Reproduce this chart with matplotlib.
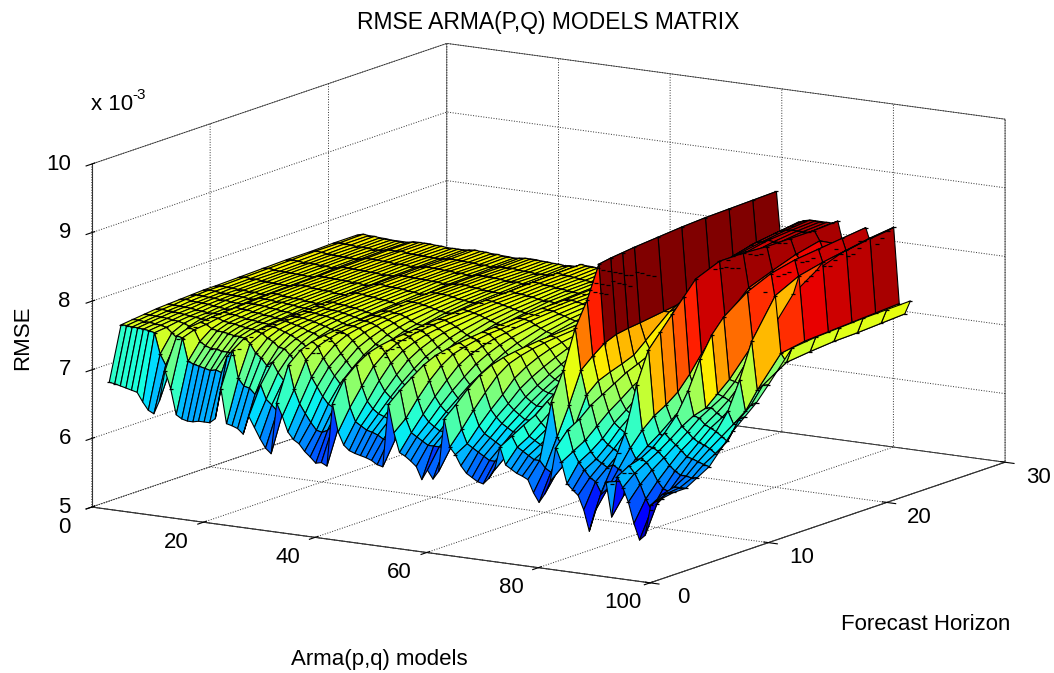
import numpy as np
import matplotlib
matplotlib.use("Agg")
import matplotlib.pyplot as plt
from mpl_toolkits.mplot3d import Axes3D, proj3d

plt.rcParams['font.family'] = ['Liberation Sans', 'DejaVu Sans']
plt.rcParams['grid.color'] = '#303030'
plt.rcParams['grid.linestyle'] = ':'
plt.rcParams['grid.linewidth'] = 0.7

# RMSE x 1e5, one list per forecast horizon, 100 models each
horizons = [1, 2, 3, 4, 5, 6, 7, 8, 9, 10, 12, 14, 16, 18, 20, 22]

h01 = [677,676,674,672,670,668,655,644,640,660, 705,680,643,638,636,636,638,638,638,645,
       690,640,638,635,628,655,640,625,612,605, 680,662,640,630,625,615,608,600,602,598,
       690,650,632,625,622,620,618,615,610,608, 700,660,632,628,622,615,597,612,600,612,
       690,650,640,625,615,610,605,603,612,625, 660,635,630,625,622,618,600,587,600,620,
       670,650,620,612,605,585,555,585,610,630, 580,640,625,605,575,552,560,605,612,617]
h02 = [755,755,754,754,753,752,750,720,705,705, 750,748,715,712,710,708,706,708,705,730,
       740,700,690,688,680,695,675,668,660,660, 730,695,675,662,650,640,638,642,650,650,
       720,680,660,655,650,648,645,640,640,640, 715,675,655,650,645,640,640,640,640,640,
       705,670,650,645,640,635,630,630,635,640, 670,655,650,645,640,640,630,625,625,635,
       690,660,645,635,625,620,605,610,620,625, 605,650,640,625,605,590,600,615,618,620]
h03 = [757,757,756,756,755,754,752,745,738,738, 756,754,738,733,730,730,728,728,725,735,
       752,745,732,726,716,722,708,698,692,692, 745,732,708,695,682,672,668,672,675,680,
       735,705,684,674,668,665,662,660,660,658, 728,698,676,666,660,655,655,655,655,655,
       722,692,670,660,655,650,645,645,648,650, 680,665,660,655,650,720,670,655,640,648,
       700,670,655,645,640,635,640,635,630,632, 620,655,650,640,625,615,612,620,620,620]
h04 = [759,759,758,758,757,756,755,753,750,750, 758,756,751,749,748,747,745,745,743,746,
       756,754,748,744,737,736,728,720,714,714, 752,746,730,718,706,696,692,695,698,702,
       746,728,708,694,686,682,680,678,676,676, 740,718,696,684,676,672,670,670,670,671,
       736,712,688,678,670,665,660,660,662,665, 689,679,671,667,690,760,710,680,665,660,
       715,685,668,660,655,650,680,660,645,645, 635,665,660,652,642,635,630,630,628,630]
h05 = [761,761,760,760,759,758,757,756,755,755, 760,759,756,755,754,752,751,750,749,752,
       758,758,755,752,749,745,740,734,728,728, 755,752,744,732,722,712,706,708,710,715,
       751,742,728,712,702,695,692,690,688,689, 748,734,714,700,690,684,682,682,682,684,
       745,730,704,692,684,678,672,672,675,678, 703,693,688,683,720,815,755,720,690,675,
       725,700,685,678,672,668,745,680,658,656, 655,680,672,665,658,650,648,645,642,640]
h06 = [762,762,761,761,760,759,758,757,757,757, 761,760,759,757,756,755,754,753,752,754,
       760,760,758,756,754,750,748,744,740,740, 757,756,752,745,736,726,720,720,723,728,
       754,750,740,728,716,708,704,702,700,702, 752,745,730,714,704,697,694,694,694,697,
       750,742,722,708,697,691,686,686,688,692, 716,706,701,696,735,850,770,735,705,690,
       735,712,698,692,688,686,790,695,670,665, 668,700,685,678,670,665,662,658,652,660]
h07 = [763,764,763,762,762,761,760,759,758,758, 762,761,761,759,758,757,756,755,754,755,
       761,761,760,758,757,754,752,749,746,746, 759,758,756,751,744,736,731,730,732,736,
       756,754,747,738,728,720,716,714,712,714, 755,750,740,727,715,708,705,705,705,708,
       753,748,733,719,708,702,699,698,700,703, 726,718,714,711,745,897,783,742,715,700,
       745,725,712,708,705,705,810,705,684,680, 680,730,695,692,684,680,676,670,664,680]
h08 = [764,765,764,763,763,762,762,761,760,760, 763,763,762,761,760,759,758,757,756,756,
       762,762,761,760,759,757,755,752,750,750, 760,760,758,755,750,744,739,738,740,743,
       758,757,752,745,736,729,725,723,722,723, 757,754,746,736,725,718,715,715,715,718,
       755,752,741,728,718,712,709,709,710,713, 733,728,724,730,760,900,790,748,725,710,
       752,735,724,722,722,725,830,718,698,695, 690,770,700,702,695,690,700,682,690,695]
h09 = [765,766,765,764,764,763,763,762,761,761, 764,764,763,762,762,761,760,759,758,758,
       763,763,762,761,760,759,757,755,753,753, 761,761,760,758,754,749,745,744,745,748,
       760,759,755,750,743,737,733,731,729,730, 759,757,751,743,734,727,724,723,723,726,
       757,755,747,736,727,721,718,717,718,721, 740,735,731,742,795,902,793,755,735,722,
       760,745,738,738,740,745,850,738,715,712, 708,800,715,712,708,702,740,695,705,710]
h10 = [765,766,765,765,764,764,763,763,762,762, 765,765,764,763,762,762,761,760,759,759,
       764,764,763,762,761,760,758,757,755,755, 762,762,761,760,757,753,749,748,749,752,
       761,760,757,753,748,743,739,737,735,736, 760,758,754,748,741,735,732,731,731,733,
       758,757,751,743,735,729,726,725,726,728, 746,741,737,750,803,904,795,770,755,745,
       775,765,762,765,770,778,870,762,740,738, 735,820,730,728,725,722,790,720,728,730]
h12 = [766,767,766,766,765,765,764,764,763,763, 766,766,766,765,764,763,763,762,761,761,
       765,766,765,764,763,762,761,760,758,758, 764,764,763,762,760,758,756,755,755,757,
       763,762,760,758,755,752,749,748,747,747, 762,761,759,755,751,747,745,744,744,745,
       761,760,757,752,748,743,740,739,740,741, 753,750,748,755,808,907,800,800,805,810,
       820,825,828,830,835,840,884,802,790,790, 795,845,770,775,780,790,845,762,750,772]
h14 = [767,768,767,766,766,766,765,765,764,764, 767,767,766,766,765,765,764,764,763,763,
       766,767,766,765,765,764,763,762,761,761, 765,765,765,764,763,761,760,759,759,760,
       765,764,763,761,759,757,755,754,753,753, 764,763,762,759,757,754,752,751,751,752,
       763,762,760,757,754,750,748,747,748,749, 758,756,754,760,813,910,805,820,830,840,
       850,855,858,860,860,862,884,835,825,828, 832,860,810,818,825,835,862,768,754,776]
h16 = [768,769,768,767,767,767,766,766,765,766, 768,768,768,767,767,766,766,765,765,765,
       767,768,767,767,766,766,765,765,764,764, 766,766,766,765,764,763,762,762,761,762,
       766,765,764,763,762,760,759,759,758,758, 765,765,764,762,760,758,756,756,755,756,
       765,764,762,760,758,755,753,752,753,754, 762,760,759,762,818,912,810,835,845,855,
       862,866,868,868,868,870,882,848,842,845, 850,868,835,840,848,858,870,770,757,778]
h18 = [768,770,769,768,768,767,767,767,766,767, 769,769,769,768,768,767,767,767,766,766,
       768,769,768,768,767,767,766,766,765,765, 767,767,767,766,765,764,764,764,763,764,
       768,767,766,765,764,763,762,761,760,760, 767,766,765,764,763,761,760,759,758,759,
       766,765,764,762,760,758,756,755,756,757, 764,763,762,765,823,913,815,845,855,865,
       870,872,875,874,874,875,882,860,850,852, 858,872,848,850,860,870,876,772,758,780]
h20 = [769,770,770,769,768,768,768,767,767,768, 770,769,770,769,768,768,768,767,767,767,
       768,769,768,768,767,767,766,766,765,766, 767,767,767,766,765,765,764,764,764,765,
       769,768,767,766,765,764,763,763,762,762, 768,767,766,765,764,762,761,761,760,761,
       767,766,765,763,761,759,758,758,758,759, 766,765,764,767,826,914,820,850,862,870,
       875,877,878,878,878,878,882,868,848,851, 860,876,852,856,865,876,882,774,760,781]
h22 = [769,771,770,770,769,769,768,768,768,768, 770,770,770,770,769,769,768,768,768,768,
       769,770,769,769,768,768,767,767,766,767, 768,768,768,767,767,766,766,765,766,766,
       770,769,769,768,767,766,765,765,764,764, 770,769,768,767,766,764,763,763,762,763,
       769,768,767,765,763,761,760,760,760,761, 768,767,766,769,830,915,825,855,868,875,
       878,880,880,880,880,880,884,850,845,850, 860,880,855,858,868,880,886,776,762,782]

x_ticks = [0, 20, 40, 60, 80, 100]
y_ticks = [0, 10, 20, 30]
z_ticks = [5, 6, 7, 8, 9, 10]

rows = [h01, h02, h03, h04, h05, h06, h07, h08, h09, h10, h12, h14, h16, h18, h20, h22]
Z = np.array(rows) / 100.0
models = np.arange(1, Z.shape[1] + 1)
X, Y = np.meshgrid(models, horizons)

colors = plt.cm.jet(plt.Normalize(5.3, 8.95)(Z))

# vertices behind a ridge get no dash
seen = np.ones(Z.shape, dtype=bool)
for j in range(Z.shape[0]):
    for i in range(Z.shape[1] - 1):
        seen[j, i] = Z[j, i] >= Z[j, i + 1:i + 21].max() - 0.3

fig = plt.figure(figsize=(10.54, 6.73), dpi=100)
ax = fig.add_axes([-0.01556, -0.3046, 1.0436, 1.6345], projection='3d', proj_type='ortho',
                  computed_zorder=False)
ax.patch.set_alpha(0)
ax.view_init(elev=12.4, azim=-57.7)
ax.set_box_aspect((660, 664, 351), zoom=0.883)

ax.plot_surface(X, Y, Z, facecolors=colors, rstride=1, cstride=1, shade=False,
                edgecolor='k', linewidth=0.8, zorder=2)
# little dashes matlab leaves on the vertices
ax.plot(X[seen], Y[seen], Z[seen], linestyle='none', marker='_', markersize=3,
        markeredgewidth=0.9, color='k', zorder=3)

ax.set_xlim(0, 100)
ax.set_ylim(0, 30)
ax.set_zlim(5, 10)
ax.set_xticks(x_ticks)
ax.set_yticks(y_ticks)
ax.set_zticks(z_ticks)
ax.zaxis.set_ticks_position('lower')
ax.zaxis.set_label_position('lower')
for axis in (ax.xaxis, ax.yaxis, ax.zaxis):
    axis.set_pane_color((1, 1, 1, 1))
    axis.pane.set_edgecolor('#505050')
    axis.pane.set_linewidth(0.6)
    axis.line.set_color('#333333')
    axis.line.set_linewidth(0.8)
    axis.set_ticklabels([])

# tick labels sit off the box, matlab style, so place them in pixels from the projected tick
fig.canvas.draw()
def tick_px(x, y, z):
    u, v, _ = proj3d.proj_transform(x, y, z, ax.get_proj())
    return ax.transData.transform((u, v))

for t in x_ticks:
    px, py = tick_px(t, 0, 5)
    fig.text(px - 27, py - 20, str(t), fontsize=16, ha='center', va='center', transform=None)
for t in y_ticks:
    px, py = tick_px(100, t, 5)
    fig.text(px + 33, py - 15, str(t), fontsize=16, ha='center', va='center', transform=None)
for t in z_ticks:
    px, py = tick_px(0, 0, t)
    fig.text(px - 21, py, str(t), fontsize=16, ha='right', va='center', transform=None)

fig.text(548, 673 - 22, 'RMSE ARMA(P,Q) MODELS MATRIX', fontsize=16.5, ha='center', va='center',
         transform=None)
fig.text(379, 673 - 660, 'Arma(p,q) models', fontsize=16, ha='center', va='center', transform=None)
fig.text(926, 673 - 625, 'Forecast Horizon', fontsize=16, ha='center', va='center', transform=None)
fig.text(23, 673 - 338, 'RMSE', fontsize=16, rotation=90, ha='center', va='center', transform=None)
fig.text(91, 673 - 105, 'x 10', fontsize=16, ha='left', va='center', transform=None)
fig.text(132, 673 - 95, '-3', fontsize=11, ha='left', va='center', transform=None)

fig.savefig('out.png', dpi=100)
